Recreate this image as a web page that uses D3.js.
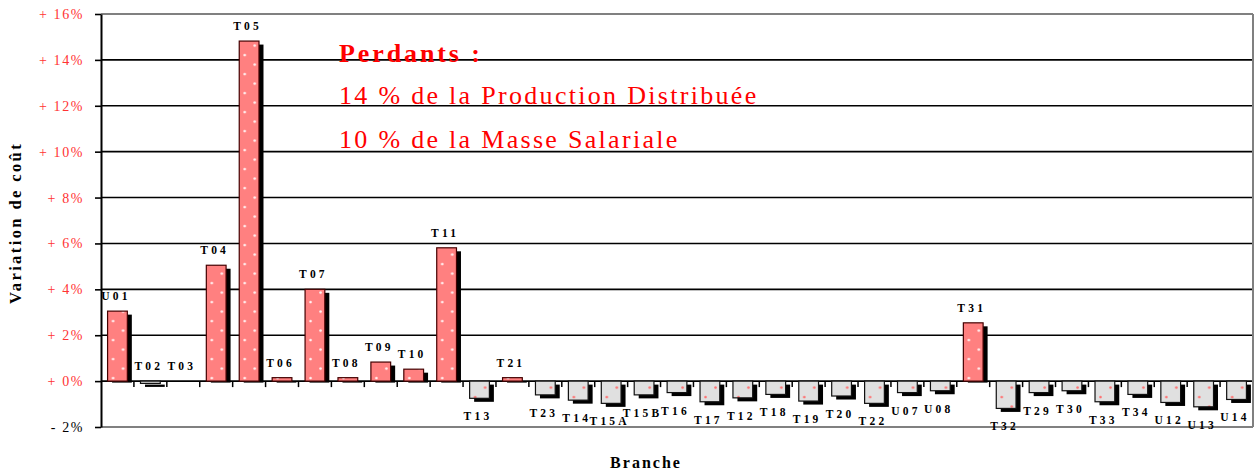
<!DOCTYPE html>
<html>
<head>
<meta charset="utf-8">
<script src="https://cdn.jsdelivr.net/npm/d3@7"></script>
<style>
  body { margin: 0; background: #fff; }
  svg { display: block; font-family: "Liberation Serif", "Times New Roman", serif; }
</style>
</head>
<body>
<div id="chart"></div>
<script>
// branches et variation de coût (%)
const categories = ["U01","T02","T03","T04","T05","T06","T07","T08","T09","T10","T11","T13","T21","T23",
  "T14","T15A","T15B","T16","T17","T12","T18","T19","T20","T22","U07","U08","T31","T32","T29","T30",
  "T33","T34","U12","U13","U14"];
const values = [3.05,-0.1,0,5.05,14.82,0.15,4.0,0.15,0.83,0.52,5.81,-0.75,0.15,-0.6,
  -0.83,-0.97,-0.6,-0.5,-0.9,-0.73,-0.58,-0.87,-0.65,-0.97,-0.5,-0.42,2.54,-1.19,-0.5,-0.42,
  -0.9,-0.58,-0.93,-1.12,-0.8];
const yTicks = [-2,0,2,4,6,8,10,12,14,16];
const noteLines = ["Perdants :", "14 % de la Production Distribuée", "10 % de la Masse Salariale"];

const W = 1256, H = 473;
const plotLeft = 101, plotRight = 1253, plotTop = 14, plotBottom = 427;

const svg = d3.select("#chart").append("svg")
  .attr("width", W).attr("height", H);

const x = d3.scaleBand().domain(categories).range([plotLeft, plotRight]).padding(0);
const y = d3.scaleLinear().domain([-2, 16]).range([plotBottom, plotTop]);
const barW = x.bandwidth() * 0.6;
const off = (x.bandwidth() - barW) / 2;

// motifs de points
const defs = svg.append("defs");
function dots(id, bg, dot) {
  const p = defs.append("pattern").attr("id", id)
    .attr("patternUnits", "userSpaceOnUse")
    .attr("x", plotLeft + off).attr("y", y(0))
    .attr("width", x.step()).attr("height", 19);
  p.append("rect").attr("width", x.step()).attr("height", 19).attr("fill", bg);
  p.append("circle").attr("cx", 5.5).attr("cy", 16).attr("r", 1.3).attr("fill", dot);
  p.append("circle").attr("cx", 15.5).attr("cy", 6.5).attr("r", 1.3).attr("fill", dot);
}
dots("posPat", "#ff8080", "#fff4f4");
dots("negPat", "#e0e0e0", "#ff7070");

// grille
svg.append("g").selectAll("line").data(yTicks.filter(d => d > -2 && d < 16)).join("line")
  .attr("x1", plotLeft).attr("x2", plotRight)
  .attr("y1", d => y(d)).attr("y2", d => y(d))
  .attr("stroke", "#000").attr("stroke-width", 1.6);

// cadre
svg.append("line").attr("x1", plotLeft).attr("x2", plotRight).attr("y1", y(16)).attr("y2", y(16))
  .attr("stroke", "#808080").attr("stroke-width", 2);
svg.append("line").attr("x1", plotLeft).attr("x2", plotRight).attr("y1", y(-2)).attr("y2", y(-2))
  .attr("stroke", "#808080").attr("stroke-width", 2);
svg.append("line").attr("x1", plotRight).attr("x2", plotRight).attr("y1", y(16)).attr("y2", y(-2))
  .attr("stroke", "#808080").attr("stroke-width", 2);

// axe Y
const yAxis = svg.append("g")
  .attr("transform", `translate(${plotLeft},0)`)
  .call(d3.axisLeft(y).tickValues(yTicks).tickSize(6).tickSizeOuter(0)
    .tickFormat(d => (d < 0 ? "- " : "+ ") + Math.abs(d) + "%"));
yAxis.select(".domain").attr("stroke", "#000").attr("stroke-width", 2);
yAxis.selectAll(".tick line").attr("stroke", "#000").attr("stroke-width", 1.6);
yAxis.selectAll(".tick text")
  .attr("x", -17).attr("font-size", 14).attr("letter-spacing", 1.6)
  .attr("font-family", "Liberation Serif, serif")
  .attr("fill", d => d < 0 ? "#000" : "#ff3333");

// petits traits sous la ligne zéro
svg.append("g").selectAll("line").data(categories.slice(1)).join("line")
  .attr("x1", d => x(d)).attr("x2", d => x(d))
  .attr("y1", y(0)).attr("y2", y(0) + 6)
  .attr("stroke", "#000").attr("stroke-width", 1.5);

const data = categories.map((c, i) => ({ c, v: values[i] })).filter(d => d.v !== 0);

// ombres (décalées, coupées à la ligne zéro pour les barres positives)
svg.append("g").selectAll("rect").data(data).join("rect")
  .attr("x", d => x(d.c) + off + 4.5)
  .attr("y", d => Math.min(y(d.v), y(0)) + 3.5)
  .attr("width", barW)
  .attr("height", d => d.v > 0 ? Math.max(0, y(0) - y(d.v) - 2) : Math.abs(y(d.v) - y(0)))
  .attr("fill", "#000");

// barres
svg.append("g").selectAll("rect").data(data).join("rect")
  .attr("x", d => x(d.c) + off)
  .attr("y", d => Math.min(y(d.v), y(0)))
  .attr("width", barW)
  .attr("height", d => Math.abs(y(d.v) - y(0)))
  .attr("fill", d => d.v > 0 ? "url(#posPat)" : "url(#negPat)")
  .attr("stroke", d => d.v > 0 ? "#400" : "#111")
  .attr("stroke-width", 1.2);

// étiquettes
svg.append("g").selectAll("text").data(categories.map((c, i) => ({ c, v: values[i] }))).join("text")
  .attr("x", d => x(d.c) + x.bandwidth() / 2 - 1.5)
  .attr("y", d => d.v >= -0.15 ? y(Math.max(d.v, 0)) - 11 : y(d.v) + 22)
  .attr("text-anchor", "middle")
  .attr("font-size", 11.5).attr("font-weight", "bold").attr("letter-spacing", 3.2)
  .attr("fill", "#000")
  .text(d => d.c);

// titres des axes
svg.append("text")
  .attr("transform", `translate(21,223) rotate(-90)`)
  .attr("text-anchor", "middle")
  .attr("font-size", 16.5).attr("font-weight", "bold").attr("letter-spacing", 2.4)
  .text("Variation de coût");
svg.append("text")
  .attr("x", 646).attr("y", 468)
  .attr("text-anchor", "middle")
  .attr("font-size", 16).attr("font-weight", "bold").attr("letter-spacing", 2)
  .text("Branche");

// annotation
svg.append("g").selectAll("text").data(noteLines).join("text")
  .attr("x", 339)
  .attr("y", (d, i) => [62, 104, 148][i])
  .attr("font-size", 26)
  .attr("font-weight", (d, i) => i === 0 ? "bold" : "normal")
  .attr("letter-spacing", (d, i) => i === 0 ? 2.9 : 2.3)
  .attr("fill", "#ff0000")
  .text(d => d);
</script>
</body>
</html>
